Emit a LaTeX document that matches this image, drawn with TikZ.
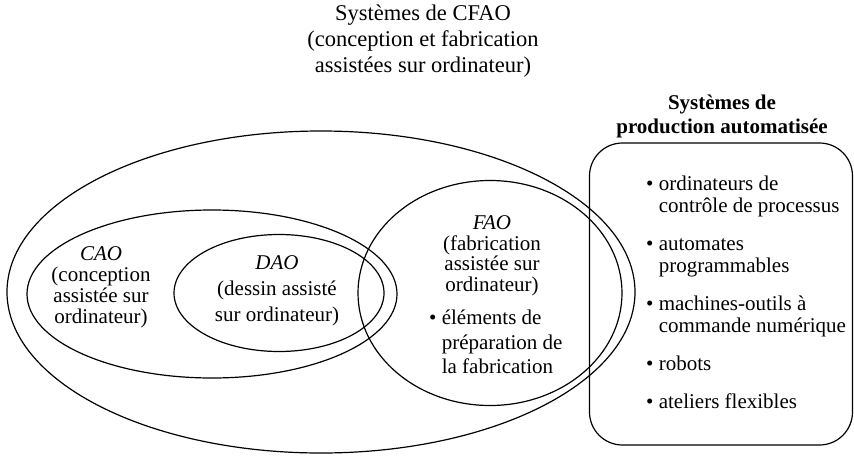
\documentclass[tikz,border=0pt]{standalone}
\usepackage{fontspec}
\setmainfont{Liberation Serif}
\usetikzlibrary{shapes.geometric}
\begin{document}
\begin{tikzpicture}[x=1pt,y=-1pt,
  set/.style={draw, ellipse, line width=1.2pt, inner sep=0pt},
  txt/.style={align=center, inner sep=0pt, font=\fontsize{21}{21}\selectfont},
  lst/.style={align=left, inner sep=0pt, anchor=west, font=\fontsize{21}{22}\selectfont},
]
\useasboundingbox (0,0) rectangle (854,458);
% sets
\node[set, minimum width=628pt, minimum height=322pt] (cfao) at (321,292) {};
\node[set, minimum width=370pt, minimum height=168pt] (cao) at (212,294) {};
\node[set, minimum width=210pt, minimum height=117pt] (dao) at (279,293) {};
\node[set, minimum width=264pt, minimum height=225pt] (fao) at (490,293) {};
\node[draw, rounded corners=33pt, line width=1.2pt, minimum width=263pt, minimum height=302pt, inner sep=0pt] (pa) at (721,294) {};
% titles
\node[txt, font=\fontsize{22.5}{26}\selectfont] (tcfao) at (423,41) {Systèmes de CFAO\\(conception et fabrication\\assistées sur ordinateur)};
\node[txt, font=\fontsize{21}{24}\selectfont\bfseries] (tpa) at (722,116) {Systèmes de\\production automatisée};
% set labels
\node[txt] (tcao) at (101,287) {\textit{CAO}\\(conception\\assistée sur\\ordinateur)};
\node[txt, font=\fontsize{21}{26}\selectfont] (tdao) at (277,291) {\textit{DAO}\\(dessin assisté\\sur ordinateur)};
\node[txt, font=\fontsize{21}{20.5}\selectfont] (tfao) at (492,256) {\textit{FAO}\\(fabrication\\assistée sur\\ordinateur)};
\node[lst, font=\fontsize{21}{24.5}\selectfont] (lfao) at (429,342) {• éléments de\\\hphantom{• }préparation de\\\hphantom{• }la fabrication};
% production list
\node[lst] (lpa) at (646,292) {• ordinateurs de\\\hphantom{• }contrôle de processus\\[16pt]
• automates\\\hphantom{• }programmables\\[16pt]
• machines-outils à\\\hphantom{• }commande numérique\\[16pt]
• robots\\[16pt]
• ateliers flexibles};
\end{tikzpicture}
\end{document}
